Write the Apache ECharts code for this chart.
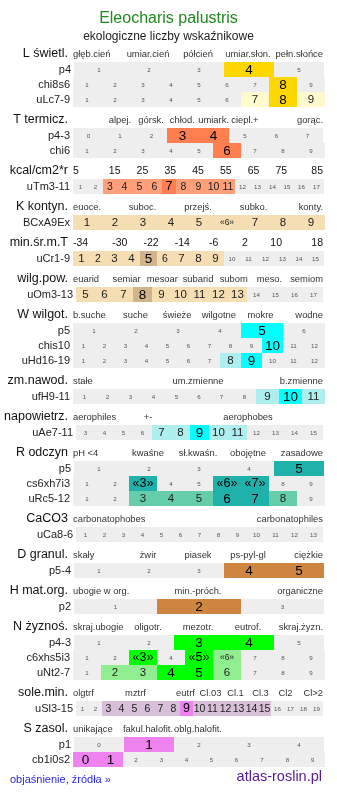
<!DOCTYPE html>
<html><head><meta charset="utf-8">
<script src="https://cdn.jsdelivr.net/npm/echarts@6/dist/echarts.min.js"></script>
<style>html,body{margin:0;padding:0;background:#fff}#c{width:337px;height:796px}</style>
</head><body><div id="c"></div>
<script>
// ---------- DATA ----------
const titleText = 'Eleocharis palustris';
const subtitleText = 'ekologiczne liczby wskaźnikowe';

// tick labels (scale values shown in cells)
const ticks0to4 = ['0','1','2','3','4'];
const ticks0to7 = ['0','1','2','3','4','5','6','7'];
const ticks0to9 = ['0','1','2','3','4','5','6','7','8','9'];
const ticks1to3 = ['1','2','3'];
const ticks1to5 = ['1','2','3','4','5'];
const ticks1to6 = ['1','2','3','4','5','6'];
const ticks1to9 = ['1','2','3','4','5','6','7','8','9'];
const ticks1to11 = ['1','2','3','4','5','6','7','8','9','10','11'];
const ticks1to12 = ['1','2','3','4','5','6','7','8','9','10','11','12'];
const ticks1to13 = ['1','2','3','4','5','6','7','8','9','10','11','12','13'];
const ticks1to15 = ['1','2','3','4','5','6','7','8','9','10','11','12','13','14','15'];
const ticks1to17 = ['1','2','3','4','5','6','7','8','9','10','11','12','13','14','15','16','17'];
const ticks1to19 = ['1','2','3','4','5','6','7','8','9','10','11','12','13','14','15','16','17','18','19'];
const ticks3to15 = ['3','4','5','6','7','8','9','10','11','12','13','14','15'];
const ticks5to17 = ['5','6','7','8','9','10','11','12','13','14','15','16','17'];
const ticksK = ['1','2','3','4','5','«6»','7','8','9'];
const ticksRcs = ['1','2','«3»','4','5','«6»','«7»','8','9'];
const ticksNc = ['1','2','«3»','4','«5»','«6»','7','8','9'];

// header labels
const L_head = ['głęb.cień','umiar.cień','półcień','umiar.słon.','pełn.słońce'];
const T_head = ['','alpej.','górsk.','chłod.','umiark.','ciepl.+','','gorąc.'];
const kcal_head = ['5','15','25','35','45','55','65','75','85'];
const K_head = ['euoce.','','suboc.','','przejś.','','subko.','','konty.'];
const minT_head = ['-34','-30','-22','-14','-6','2','10','18'];
const wilg_head = ['euarid','semiar','mesoar','subarid','subom','meso.','semiom'];
const W_head = ['b.suche','suche','świeże','wilgotne','mokre','wodne'];
const zm_head = ['stałe','um.zmienne','b.zmienne'];
const nap_head = ['aerophiles','+-','','aerophobes',''];
const R_head = ['pH <4','kwaśne','sł.kwaśn.','obojętne','zasadowe'];
const Ca_head = ['carbonatophobes','carbonatophiles'];
const D_head = ['skały','żwir','piasek','ps-pyl-gl','ciężkie'];
const H_head = ['ubogie w org.','min.-próch.','organiczne'];
const N_head = ['skraj.ubogie','oligotr.','mezotr.','eutrof.','skraj.żyzn.'];
const Sl_head = ['olgtrf','','mztrf','','eutrf','Cl.03','Cl.1','Cl.3','Cl2','Cl>2'];
const S_head = ['unikające','fakul.halofit.','oblg.halofit.','',''];

// cell levels: 0 = none, 1 = secondary, 2 = main
const L_p4 = [0,0,0,2,0];
const L_chi8s6 = [0,0,0,0,0,0,0,2,0];
const L_uLc79 = [0,0,0,0,0,0,1,2,1];
const T_p43 = [0,0,0,2,2,0,0,0];
const T_chi6 = [0,0,0,0,0,2,0,0,0];
const T_uTm311 = [0,0,1,1,1,1,2,1,1,1,1,0,0,0,0,0,0];
const K_BCxA9Ex = [1,1,1,1,1,1,1,1,1];
const K_uCr19 = [1,1,1,1,2,1,1,1,1,0,0,0,0,0,0];
const K_uOm313 = [1,1,1,2,1,1,1,1,1,0,0,0,0];
const W_p5 = [0,0,0,0,2,0];
const W_chis10 = [0,0,0,0,0,0,0,0,0,2,0,0];
const W_uHd1619 = [0,0,0,0,0,0,0,1,2,0,0,0];
const W_ufH911 = [0,0,0,0,0,0,0,0,1,2,1];
const W_uAe711 = [0,0,0,0,1,1,2,1,1,0,0,0,0];
const R_p5 = [0,0,0,0,2];
const R_cs6xh7i3 = [0,0,2,0,0,2,2,0,0];
const R_uRc512 = [0,0,1,1,1,2,2,1,0];
const R_uCa86 = [0,0,0,0,0,0,0,0,0,0,0,0,0];
const D_p54 = [0,0,0,2,2];
const H_p2 = [0,2,0];
const N_p43 = [0,0,2,2,0];
const N_c6xhs5i3 = [0,0,2,0,2,1,0,0,0];
const N_uNt27 = [0,1,1,2,2,1,0,0,0];
const Sl_uSl315 = [0,0,1,1,1,1,1,1,2,1,1,1,1,1,1,0,0,0,0];
const S_p1 = [0,2,0,0,0];
const S_cb1i0s2 = [2,2,0,0,0,0,0,0,0,0];

// ---------- STYLE / LAYOUT ----------
const FF = '"Liberation Sans", Arial, sans-serif';
const PAL = {
  L: [null,'#fffacd','#ffd700'],
  T: [null,'#ffa07a','#ff7f50'],
  K: [null,'#f5deb3','#d2b48c'],
  W: [null,'#afeeee','#00ffff'],
  R: [null,'#66cdaa','#20b2aa'],
  D: [null,'#deb887','#cd853f'],
  N: [null,'#90ee90','#00ff00'],
  Sl:[null,'#d8bfd8','#ee82ee'],
  S: [null,'#d8bfd8','#ee82ee']
};
const blocks = [
 {label:'L świetl.', head:L_head, pal:PAL.L, rows:[['p4',ticks1to5,L_p4],['chi8s6',ticks1to9,L_chi8s6],['uLc7-9',ticks1to9,L_uLc79]]},
 {label:'T termicz.', head:T_head, pal:PAL.T, rows:[['p4-3',ticks0to7,T_p43],['chi6',ticks1to9,T_chi6]]},
 {label:'kcal/cm2*r', head:kcal_head, num:true, pal:PAL.T, rows:[['uTm3-11',ticks1to17,T_uTm311]]},
 {label:'K kontyn.', head:K_head, pal:PAL.K, rows:[['BCxA9Ex',ticksK,K_BCxA9Ex]]},
 {label:'min.śr.m.T', head:minT_head, num:true, pal:PAL.K, rows:[['uCr1-9',ticks1to15,K_uCr19]]},
 {label:'wilg.pow.', head:wilg_head, pal:PAL.K, rows:[['uOm3-13',ticks5to17,K_uOm313]]},
 {label:'W wilgot.', head:W_head, pal:PAL.W, rows:[['p5',ticks1to6,W_p5],['chis10',ticks1to12,W_chis10],['uHd16-19',ticks1to12,W_uHd1619]]},
 {label:'zm.nawod.', head:zm_head, pal:PAL.W, rows:[['ufH9-11',ticks1to11,W_ufH911]]},
 {label:'napowietrz.', head:nap_head, pal:PAL.W, rows:[['uAe7-11',ticks3to15,W_uAe711]]},
 {label:'R odczyn', head:R_head, pal:PAL.R, rows:[['p5',ticks1to5,R_p5],['cs6xh7i3',ticksRcs,R_cs6xh7i3],['uRc5-12',ticks1to9,R_uRc512]]},
 {label:'CaCO3', head:Ca_head, pal:PAL.R, rows:[['uCa8-6',ticks1to13,R_uCa86]]},
 {label:'D granul.', head:D_head, pal:PAL.D, rows:[['p5-4',ticks1to5,D_p54]]},
 {label:'H mat.org.', head:H_head, pal:PAL.D, rows:[['p2',ticks1to3,H_p2]]},
 {label:'N żyznoś.', head:N_head, pal:PAL.N, rows:[['p4-3',ticks1to5,N_p43],['c6xhs5i3',ticksNc,N_c6xhs5i3],['uNt2-7',ticks1to9,N_uNt27]]},
 {label:'sole.min.', head:Sl_head, pal:PAL.Sl, rows:[['uSl3-15',ticks1to19,Sl_uSl315]]},
 {label:'S zasol.', head:S_head, pal:PAL.S, rows:[['p1',ticks0to4,S_p1],['cb1i0s2',ticks0to9,S_cb1i0s2]]}
];
function rowSpan(n){
  if(n===13||n===19) return [76,323];
  if(n===3||n===5) return [74,324];
  if(n===8) return [73,323];
  if(n===15||n===17) return [73,324];
  return [73,325];
}
const ROW_H = 15, GAP = 21, FIRST_TOP = 62;

const grids=[], xAxes=[], yAxes=[], series=[];
let y = FIRST_TOP;
blocks.forEach((b,bi)=>{
  if(bi>0) y += GAP;
  // header grid
  let gi = grids.length;
  const head = b.head, nh = head.length, num = !!b.num;
  grids.push({left:73, top:y-15, width:250, height:14, show:false});
  xAxes.push({gridIndex:gi, type:'value', min:0, max:nh, show:false});
  yAxes.push({gridIndex:gi, type:'category', data:[b.label],
    axisLine:{show:false}, axisTick:{show:false}, splitLine:{show:false},
    axisLabel:{margin:5, fontSize:12.5, color:'#111', fontFamily:FF}});
  series.push({type:'custom', xAxisIndex:gi, yAxisIndex:gi, silent:true, animation:false,
    data: head.map((t,i)=>[i,0]).filter(d=>head[d[0]]!==''),
    renderItem:(params,api)=>{
      const i = api.value(0);
      let x, align='center';
      const c = api.coord([i+0.5,0]);
      if(i===0){ x = api.coord([0,0])[0]; align='left'; }
      else if(i===nh-1){ x = api.coord([nh,0])[0]; align='right'; }
      else x = c[0];
      return {type:'text', style:{text:head[i], x:x, y:c[1], align:align, verticalAlign:'middle',
        fontSize: num?10.5:9.4, fill: num?'#111':'#333', fontFamily:FF}};
    }});
  // rows
  b.rows.forEach(r=>{
    const [name, ticks, vals] = r;
    const n = ticks.length;
    const [x0,x1] = rowSpan(n);
    const pal = b.pal;
    gi = grids.length;
    grids.push({left:x0, top:y, width:x1-x0, height:ROW_H, show:true, backgroundColor:'#eeeeee', borderWidth:0});
    xAxes.push({gridIndex:gi, type:'value', min:0, max:n, show:false});
    yAxes.push({gridIndex:gi, type:'category', data:[name],
      axisLine:{show:false}, axisTick:{show:false}, splitLine:{show:false},
      axisLabel:{margin:3, fontSize:11, color:'#222', fontFamily:FF}});
    series.push({type:'custom', xAxisIndex:gi, yAxisIndex:gi, silent:true, animation:false,
      data: ticks.map((t,i)=>[i,0]),
      renderItem:(params,api)=>{
        const i = api.value(0);
        const lvl = vals[i], lab = ticks[i];
        const a = api.coord([i,0]), bb = api.coord([i+1,0]);
        const h = api.size([0,1])[1];
        const xa = Math.round(a[0]), xb = Math.round(bb[0]);
        const top = Math.round(a[1]-h/2);
        const w = xb-xa;
        const quoted = lab.indexOf('«')>=0;
        const children=[];
        if(lvl>0 && pal[lvl]) children.push({type:'rect', shape:{x:xa,y:top,width:w,height:h}, style:{fill:pal[lvl]}});
        let fs, fill;
        if(lvl===0){ fs=6.2; fill='#555'; }
        else if(lvl===1){ fs = quoted?8.5:(w<17?10.5:11.5); fill='#222'; }
        else { fs = quoted?12.5:(w<17?12.5:13.5); fill='#000'; }
        children.push({type:'text', style:{text:lab, x:(xa+xb)/2, y:a[1]+0.5, align:'center', verticalAlign:'middle',
          fontSize:fs, fill:fill, fontFamily:FF}});
        return {type:'group', children};
      }});
    y += ROW_H;
  });
});

const chart = echarts.init(document.getElementById('c'), null, {renderer:'canvas'});
chart.setOption({
  animation:false,
  backgroundColor:'#ffffff',
  grid:grids, xAxis:xAxes, yAxis:yAxes, series:series,
  graphic:[
    {type:'text', left:'center', top:11, style:{text:titleText, fontSize:16, fill:'#1f8a1f', fontFamily:FF}},
    {type:'text', left:'center', top:31, style:{text:subtitleText, fontSize:12, fill:'#222', fontFamily:FF}},
    {type:'text', left:10, top:774, style:{text:'objaśnienie, źródła »', fontSize:11, fill:'#2a2ae6', fontFamily:FF}},
    {type:'text', right:15, top:769, style:{text:'atlas-roslin.pl', fontSize:14.5, fill:'#551a8b', fontFamily:FF}}
  ]
});
</script></body></html>
